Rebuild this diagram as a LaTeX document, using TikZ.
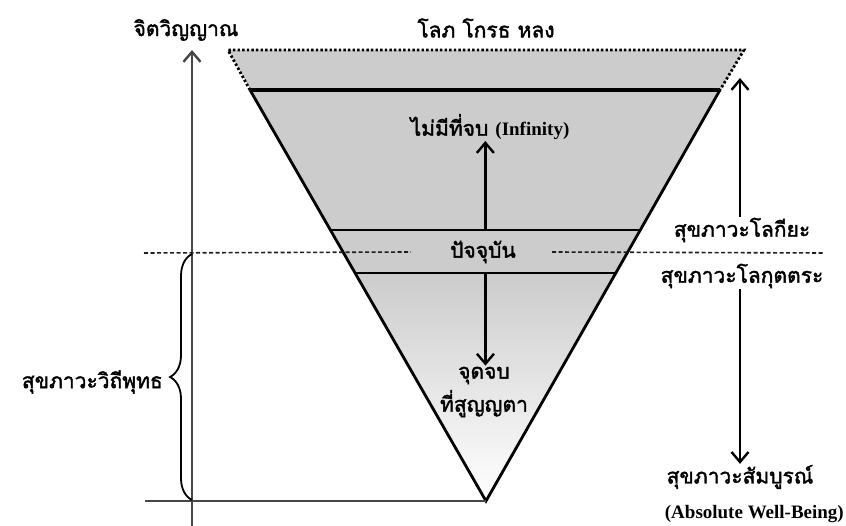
\documentclass[tikz,border=0pt]{standalone}
\usepackage{fontspec}
\setmainfont{Liberation Serif}
\newfontfamily\thaifont[Script=Thai, FakeBold=1.8]{Loma}
\usetikzlibrary{arrows.meta, positioning, calc, decorations.pathreplacing}
\definecolor{conegray}{RGB}{204,204,204}
\definecolor{axisgray}{RGB}{70,70,70}
\definecolor{dashgray}{RGB}{30,30,30}

\begin{document}
\begin{tikzpicture}[x=1pt, y=-1pt,
  thai/.style={font=\thaifont\fontsize{21}{24}\selectfont, inner sep=1pt},
  eng/.style={font=\bfseries\fontsize{19}{22}\selectfont, inner sep=1pt},
  arr/.style={-{Straight Barb[length=10pt,width=17pt,line width=2.4pt]}, line width=2.4pt},
  rim/.style={line width=2.8pt},
  dashline/.style={dashgray, line width=1.6pt, dash pattern=on 4pt off 2.5pt},
]
  \useasboundingbox (0,0) rectangle (846,526);

  % cone corners
  \coordinate (tl) at (228,50);
  \coordinate (tr) at (744,50);
  \coordinate (l0) at (250,90);
  \coordinate (r0) at (720,90);
  \coordinate (tip) at (486,501);
  \coordinate (l1) at ($(l0)!0.3406!(tip)$);
  \coordinate (r1) at ($(r0)!0.3406!(tip)$);
  \coordinate (l2) at ($(l0)!0.4453!(tip)$);
  \coordinate (r2) at ($(r0)!0.4453!(tip)$);

  % fills
  \fill[conegray] (tl) -- (tr) -- (r2) -- (l2) -- cycle;
  \shade[top color=conegray, bottom color=white] (l2) -- (r2) -- (tip) -- cycle;

  % outline
  \draw[line width=2.8pt, dash pattern=on 2.4pt off 2.2pt] (l0) -- (tl) -- (tr) -- (r0);
  \draw[rim, line width=3.2pt] (l0) -- (r0);
  \draw[rim] (l0) -- (tip) -- (r0);
  \draw[rim] (l1) -- (r1);
  \draw[rim] (l2) -- (r2);

  % axis and base
  \node[thai] (spirit) at (186,30) {จิตวิญญาณ};
  \coordinate (axbot) at (192,526);
  \coordinate (axtop) at (192,50);
  \draw[arr, axisgray, line width=2.2pt] (axbot) -- (axtop);
  \coordinate (base) at (145,501);
  \draw[axisgray, line width=2.8pt] (base) -- (tip);

  \node[thai] (greed) at (486,28) {โลภ โกรธ หลง};

  % present
  \node[thai] (now) at (483,252) {ปัจจุบัน};
  \coordinate (dl) at (144,253);
  \coordinate (dr) at (825,253);
  \draw[dashline] (dl) -- ([xshift=-38pt]now.west);
  \draw[dashline] ([xshift=35pt]now.east) -- (dr);

  % centre arrows
  \node[thai] (inf) at (490,127) {ไม่มีที่จบ {\rmfamily\bfseries\fontsize{19}{22}\selectfont (Infinity)}};
  \coordinate (up0) at ($(l1)!0.5!(r1)$);
  \draw[arr] (up0) -- (up0 |- inf.south);
  \node[thai, align=center] (endpt) at (484,392) {จุดจบ\\[5pt]ที่สูญญตา};
  \coordinate (dn0) at ($(l2)!0.5!(r2)$);
  \draw[arr] (dn0) -- (dn0 |- endpt.north);

  % right side
  \node[thai] (mund) at (742,230) {สุขภาวะโลกียะ};
  \node[thai] (supra) at (742,276) {สุขภาวะโลกุตตระ};
  \node[thai] (abs) at (740,477) {สุขภาวะสัมบูรณ์};
  \node[eng, anchor=east] (absen) at (845,514) {(Absolute Well-Being)};
  \coordinate (rtop) at (740,78);
  \draw[arr] (mund.north -| rtop) -- (rtop);
  \draw[arr] (supra.south -| rtop) -- (abs.north -| rtop);

  % left brace
  \coordinate (bt) at (192,254);
  \coordinate (bb) at (192,500);
  \draw[decorate, decoration={brace, amplitude=22pt}, line width=1.8pt] (bb) -- (bt);
  \node[thai, anchor=east] (buddha) at (164,382) {สุขภาวะวิถีพุทธ};
\end{tikzpicture}
\end{document}
